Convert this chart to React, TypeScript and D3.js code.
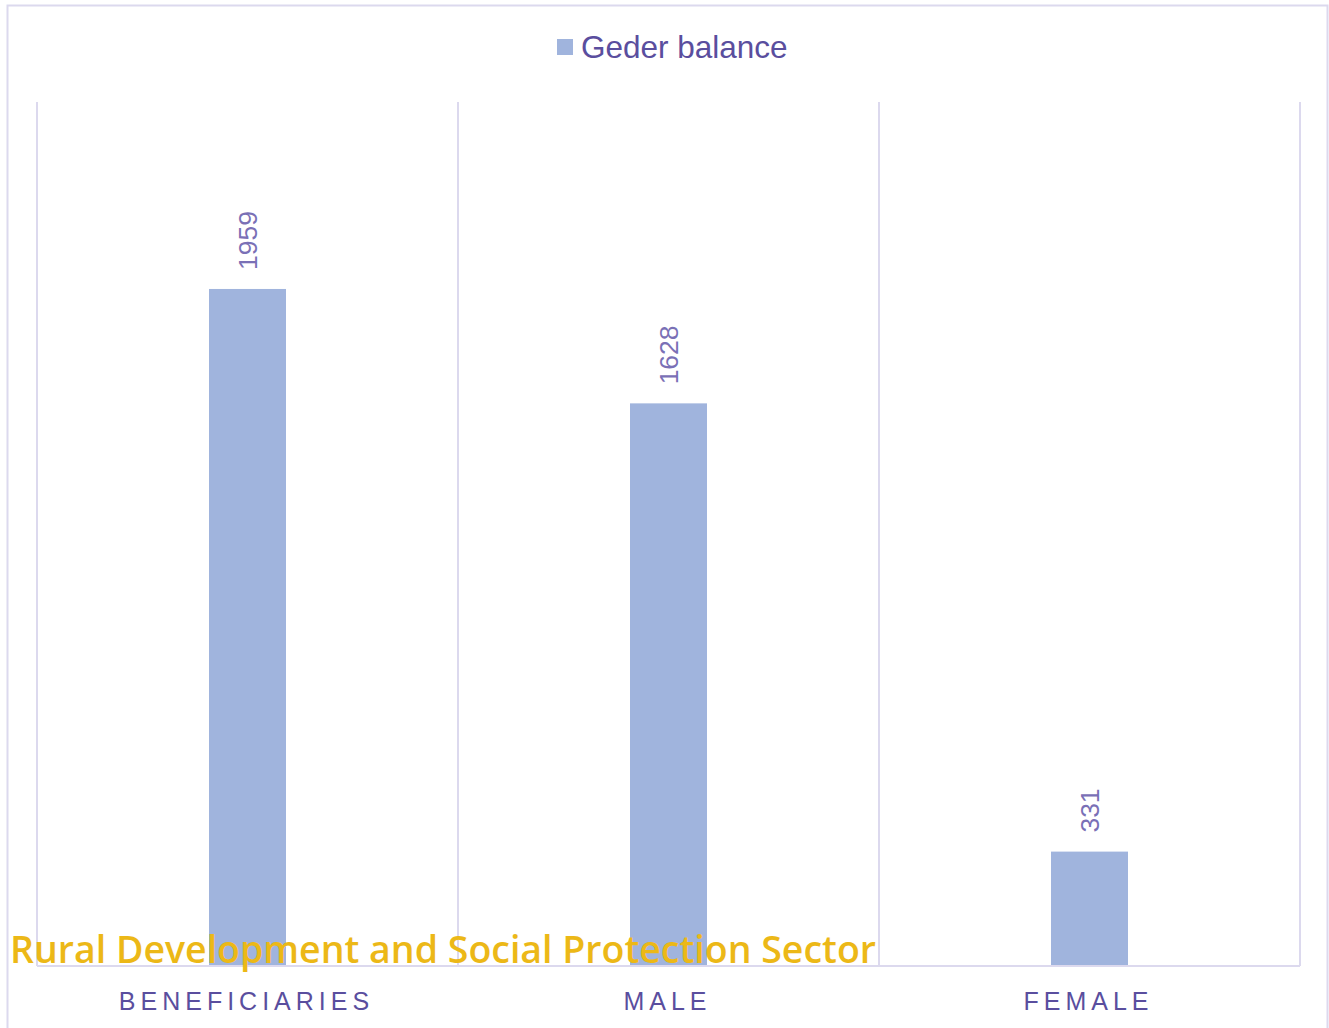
import React from "react";
import * as d3 from "d3";

const categories = ["BENEFICIARIES", "MALE", "FEMALE"];
const values = [1959, 1628, 331];
const seriesName = "Geder balance";
const watermark = "Rural Development and Social Protection Sector";

export default function App() {
  const W = 1329, H = 1028;
  const left = 37, right = 1300, top = 102, bottom = 966;
  const x = d3.scaleBand<string>().domain(categories).range([left, right]).paddingInner(0).paddingOuter(0);
  const y = d3.scaleLinear().domain([0, 2500]).range([bottom, top]);
  const barW = 77;
  const purple = "#5a4e9e";
  const grid = "#dcd9ee";
  const font = "'Liberation Sans', Arial, sans-serif";
  const gridXs = categories.map((c) => x(c)!).concat([right]);
  return (
    <svg width={W} height={H} style={{ position: "absolute", left: 0, top: 0 }}>
      <rect x={0} y={0} width={W} height={H} fill="#fff" />
      <rect x={7.5} y={5.5} width={1320} height={1030} fill="none" stroke={grid} strokeWidth={2} />
      {gridXs.map((gx, i) => (
        <line key={i} x1={gx} x2={gx} y1={top} y2={bottom} stroke={grid} strokeWidth={2} />
      ))}
      {categories.map((c, i) => {
        const cx = x(c)! + x.bandwidth() / 2;
        return (
          <g key={c}>
            <rect x={cx - barW / 2} y={y(values[i])} width={barW} height={bottom - y(values[i])} fill="#a0b4dd" />
            <text
              transform={`translate(${cx + 9},${y(values[i]) - 19}) rotate(-90)`}
              fontFamily={font}
              fontSize={26.5}
              fill="#7a70b6"
              textAnchor="start"
            >
              {values[i]}
            </text>
            <text x={cx - 1} y={1010} textAnchor="middle" fontFamily={font} fontSize={25} letterSpacing={5} fill={purple}>
              {c}
            </text>
          </g>
        );
      })}
      <line x1={left} x2={right} y1={bottom} y2={bottom} stroke={grid} strokeWidth={2} />
      <rect x={557} y={39} width={16} height={16} fill="#a0b4dd" />
      <text x={581} y={58} fontFamily={font} fontSize={31.5} fill={purple}>
        {seriesName}
      </text>
      <text x={10} y={963} fontFamily="'Open Sans', sans-serif" fontWeight={600} fontSize={37.5} fill="#ecb817">
        {watermark}
      </text>
    </svg>
  );
}
